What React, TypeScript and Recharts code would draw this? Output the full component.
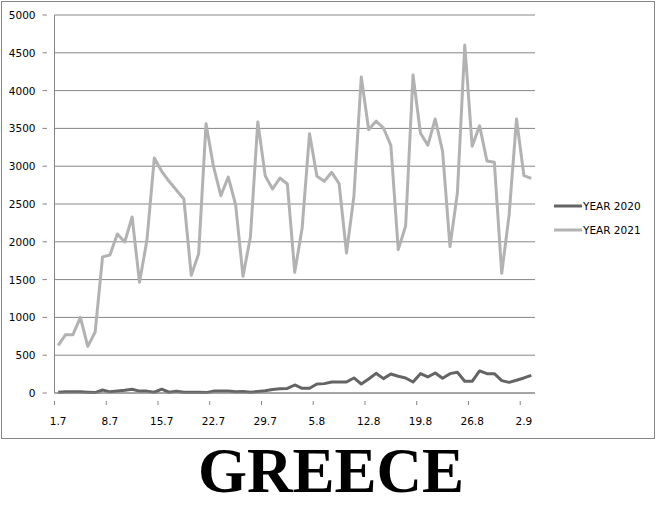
import { LineChart, Line, XAxis, YAxis, CartesianGrid } from 'recharts';

// day.month labels, one per day from 1 July to 3 September
const days = [
  '1.7', '2.7', '3.7', '4.7', '5.7', '6.7', '7.7', '8.7', '9.7', '10.7',
  '11.7', '12.7', '13.7', '14.7', '15.7', '16.7', '17.7', '18.7', '19.7', '20.7',
  '21.7', '22.7', '23.7', '24.7', '25.7', '26.7', '27.7', '28.7', '29.7', '30.7',
  '31.7', '1.8', '2.8', '3.8', '4.8', '5.8', '6.8', '7.8', '8.8', '9.8',
  '10.8', '11.8', '12.8', '13.8', '14.8', '15.8', '16.8', '17.8', '18.8', '19.8',
  '20.8', '21.8', '22.8', '23.8', '24.8', '25.8', '26.8', '27.8', '28.8', '29.8',
  '30.8', '31.8', '1.9', '2.9', '3.9',
];

const year2020 = [
  10, 15, 15, 15, 10, 5, 40, 15, 25, 35,
  50, 25, 25, 10, 50, 10, 25, 10, 10, 10,
  5, 25, 25, 25, 15, 20, 10, 20, 30, 45,
  55, 60, 106, 62, 62, 119, 124, 146, 146, 146,
  199, 119, 186, 260, 190, 252, 221, 199, 146, 256,
  212, 265, 194, 256, 274, 155, 155, 292, 256, 256,
  164, 141, 168, 199, 234,
];

const year2021 = [
  630, 772, 772, 1000, 617, 807, 1800, 1825, 2103, 1997,
  2328, 1464, 2020, 3108, 2932, 2800, 2681, 2566, 1556, 1843,
  3563, 3000, 2610, 2857, 2491, 1543, 2063, 3585, 2875, 2698,
  2844, 2765, 1596, 2183, 3430, 2866, 2800, 2919, 2769, 1852,
  2601, 4180, 3483, 3596, 3505, 3276, 1896, 2209, 4206, 3439,
  3276, 3624, 3197, 1936, 2646, 4603, 3263, 3536, 3068, 3051,
  1583, 2359, 3624, 2875, 2840,
];

const yTicks = [0, 500, 1000, 1500, 2000, 2500, 3000, 3500, 4000, 4500, 5000];

const series = [
  { key: 'y2020', name: 'YEAR 2020', color: '#646464' },
  { key: 'y2021', name: 'YEAR 2021', color: '#b2b2b2' },
];

const data = days.map((d, i) => ({ day: d, y2020: year2020[i], y2021: year2021[i] }));

const AXIS = '#868686';
const FONT = '"DejaVu Sans", Verdana, sans-serif';
// half a category: Excel puts the ticks between the categories
const HALF = 3.7;

function XTick({ x, y, payload }: any) {
  return (
    <g>
      <line x1={x - HALF} x2={x - HALF} y1={y} y2={y + 4} stroke={AXIS} />
      <text x={x} y={y + 24} textAnchor="middle" fontSize={10.5} fontFamily={FONT} fill="#000">
        {payload.value}
      </text>
    </g>
  );
}

function YTick({ x, y, payload }: any) {
  return (
    <g>
      <line x1={x - 4} x2={x + 0.5} y1={y} y2={y} stroke={AXIS} />
      <text x={x - 11} y={y + 4} textAnchor="end" fontSize={10.5} fontFamily={FONT} fill="#000">
        {payload.value}
      </text>
    </g>
  );
}

export default function App() {
  return (
    <div style={{ position: 'absolute', left: 0, top: 0, width: 658, height: 506, background: '#fff' }}>
      <div
        style={{
          position: 'absolute',
          left: 1,
          top: 1,
          width: 652,
          height: 436,
          border: '1px solid #868686',
        }}
      />
      <div style={{ position: 'absolute', left: 0, top: 0 }}>
        <LineChart
          width={658}
          height={440}
          data={data}
          margin={{ top: 15, right: 123, bottom: 17, left: 0.5 }}
        >
          <CartesianGrid vertical={false} stroke={AXIS} strokeDasharray="" />
          <XAxis
            dataKey="day"
            interval={6}
            padding={{ left: HALF, right: HALF }}
            stroke={AXIS}
            tickLine={false}
            tick={<XTick />}
            height={30}
          />
          <YAxis
            domain={[0, 5000]}
            ticks={yTicks}
            stroke={AXIS}
            tickLine={false}
            tick={<YTick />}
            width={54}
          />
          {series.map((s) => (
            <Line
              key={s.key}
              dataKey={s.key}
              name={s.name}
              stroke={s.color}
              strokeWidth={3}
              dot={false}
              strokeLinejoin="round"
              isAnimationActive={false}
            />
          ))}
        </LineChart>
      </div>
      <div style={{ position: 'absolute', left: 554, top: 194 }}>
        {series.map((s) => (
          <div key={s.key} style={{ display: 'flex', alignItems: 'center', height: 24 }}>
            <svg width={28} height={6} style={{ display: 'block' }}>
              <line x1={0} x2={28} y1={3} y2={3} stroke={s.color} strokeWidth={3} />
            </svg>
            <span style={{ fontFamily: FONT, fontSize: 10.5, color: '#000', marginLeft: 1 }}>{s.name}</span>
          </div>
        ))}
      </div>
      <div
        style={{
          position: 'absolute',
          left: 0,
          width: 658,
          top: 437,
          textAlign: 'center',
          fontFamily: '"Liberation Serif", "Times New Roman", serif',
          fontWeight: 'bold',
          fontSize: 63,
          lineHeight: '69px',
          color: '#000',
          paddingLeft: 4,
          boxSizing: 'border-box',
        }}
      >
        GREECE
      </div>
    </div>
  );
}
